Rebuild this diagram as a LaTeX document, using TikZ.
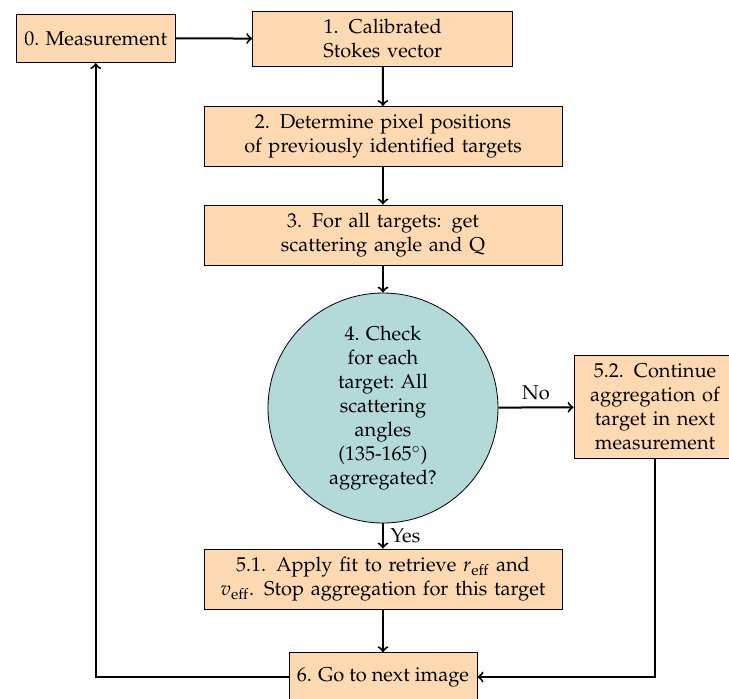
\documentclass[tikz,border=0pt]{standalone}
\usepackage[T1]{fontenc}
\usepackage{mathpazo}
\definecolor{boxfill}{RGB}{255,217,178}
\definecolor{circfill}{RGB}{179,217,217}
\tikzset{
  box/.style={draw, fill=boxfill, inner sep=4pt, minimum height=24.3pt, align=center},
  decision/.style={circle, draw, fill=circfill, minimum size=115pt, inner sep=0pt, align=center},
  arr/.style={->, line width=1pt},
  every node/.append style={font=\fontsize{10}{12}\selectfont}
}
\begin{document}
\begin{tikzpicture}[x=0.5pt, y=-0.5pt]
\useasboundingbox (0,0) rectangle (729,698);
\clip (0,0) rectangle (729,698);
\node[box] (n0) at (95.7,38.3) {0. Measurement};
\node[box, text width=122pt] (n1) at (382.7,38.7) {1. Calibrated\\Stokes vector};
\node[box, text width=171pt] (n2) at (383,136.5) {2. Determine pixel positions\\of previously identified targets};
\node[box, text width=171pt] (n3) at (383,235) {3. For all targets: get\\scattering angle and Q};
\node[decision] (n4) at (383,408) {4. Check\\for each\\target: All\\scattering\\angles\\(135-165$^\circ$)\\aggregated?};
\node[box, text width=73pt] (n52) at (655,407) {5.2. Continue\\aggregation of\\target in next\\measurement};
\node[box, text width=171pt] (n51) at (383,579) {5.1. Apply fit to retrieve $r_{\mathrm{eff}}$ and\\$v_{\mathrm{eff}}$. Stop aggregation for this target};
\node[box] (n6) at (383,677) {6. Go to next image};
\draw[arr] (n0) -- (n1);
\draw[arr] (n1) -- (n2);
\draw[arr] (n2) -- (n3);
\draw[arr] (n3) -- (n4);
\draw[arr] (n4) -- node[above] {No} (n52);
\draw[arr] (n4) -- node[right] {Yes} (n51);
\draw[arr] (n51) -- (n6);
\draw[arr] (n52.south) |- (n6.east);
\draw[arr] (n6.west) -| (n0.south);
\end{tikzpicture}
\end{document}
